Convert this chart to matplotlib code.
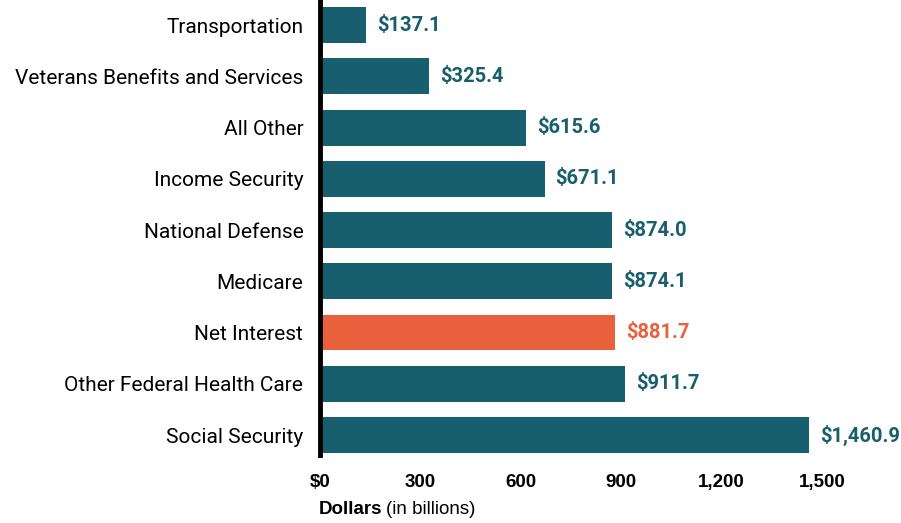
import matplotlib.pyplot as plt

categories = ["Transportation", "Veterans Benefits and Services", "All Other",
              "Income Security", "National Defense", "Medicare", "Net Interest",
              "Other Federal Health Care", "Social Security"]
values = [137.1, 325.4, 615.6, 671.1, 874.0, 874.1, 881.7, 911.7, 1460.9]
labels = ["$137.1", "$325.4", "$615.6", "$671.1", "$874.0", "$874.1", "$881.7",
          "$911.7", "$1,460.9"]
highlight = "Net Interest"
xticks = [0, 300, 600, 900, 1200, 1500]
xticklabels = ["$0", "300", "600", "900", "1,200", "1,500"]

TEAL = "#175e6f"
ORANGE = "#e8603c"

x0 = 320
px_per_unit = 295 / 881.7

fig = plt.figure(figsize=(9.01, 5.23), dpi=100)
ax = fig.add_axes([x0 / 901, 1 - 455 / 523, 1 - x0 / 901, 455 / 523])

colors = [ORANGE if c == highlight else TEAL for c in categories]
ypos = list(range(len(categories)))
ax.barh(ypos, values, height=0.7, color=colors)

for y, v, lab, col in zip(ypos, values, labels, colors):
    ax.text(v + 11 / px_per_unit, y, lab, va="center", ha="left", color=col,
            fontsize=14.5, fontweight="bold", family="Roboto")

ax.set_xlim(0, (901 - x0) / px_per_unit)
ax.set_ylim(8.39, -0.49)
ax.set_yticks(ypos)
ax.set_yticklabels(categories, fontsize=15, family="Roboto")
ax.tick_params(axis="y", length=0, pad=12)

ax.set_xticks(xticks)
ax.set_xticklabels(xticklabels, fontsize=13.5, fontweight="bold",
                   family="Liberation Sans")
ax.tick_params(axis="x", length=0, pad=14)

for s in ["top", "right", "bottom"]:
    ax.spines[s].set_visible(False)
ax.spines["left"].set_linewidth(3.5)
ax.spines["left"].set_color("black")

fig.text(319 / 901, 1 - 510 / 523, "Dollars", fontsize=13.5, fontweight="bold",
         family="Liberation Sans", va="center", ha="left")
fig.text(386 / 901, 1 - 510 / 523, "(in billions)", fontsize=13.5,
         family="Liberation Sans", va="center", ha="left")

fig.savefig("out.png", dpi=100)
